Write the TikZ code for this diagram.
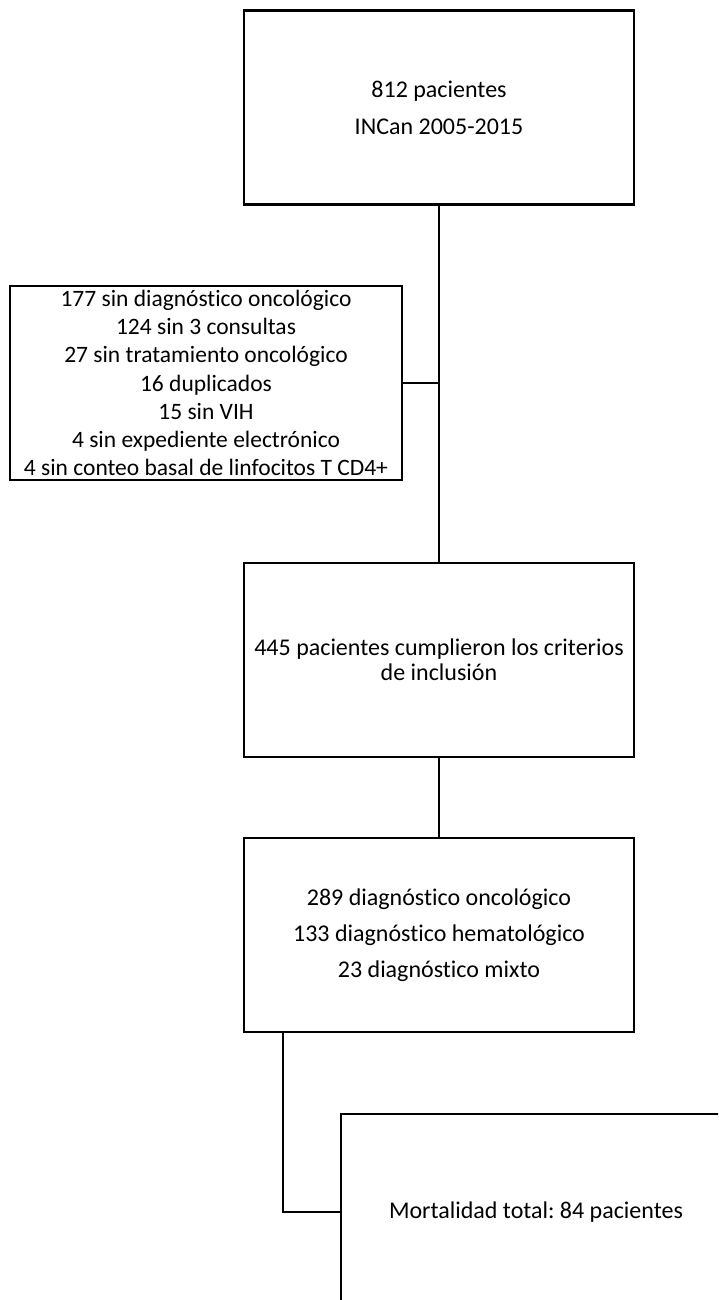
\documentclass[tikz,border=0pt]{standalone}
\usepackage{fontspec}
\setmainfont[RawFeature=-liga]{Carlito}
\usetikzlibrary{positioning}

\begin{document}
\frenchspacing
\begin{tikzpicture}[x=1pt, y=-1pt,
  stage/.style={rectangle, draw, line width=2.6pt, minimum width=390pt, minimum height=194pt, align=center, inner sep=0pt},
  link/.style={line width=2.6pt}]
\useasboundingbox (0,0) rectangle (718,1300);
\clip (0,0) rectangle (718,1300);
\node[stage, font=\fontsize{24}{37}\selectfont] (total) at (439,107.5) {812 pacientes\\INCan 2005-2015};
\node[stage, line width=2pt, minimum width=392pt, font=\fontsize{23.5}{28.3}\selectfont] (excluded) at (206,383) {177 sin diagnóstico oncológico\\124 sin 3 consultas\\27 sin tratamiento oncológico\\16 duplicados\\15 sin VIH\\4 sin expediente electrónico\\4 sin conteo basal de linfocitos T CD4+};
\node[stage, font=\fontsize{24}{25}\selectfont] (included) at (439,660) {445 pacientes cumplieron los criterios\\de inclusión};
\node[stage, font=\fontsize{24}{36}\selectfont] (diagnosis) at (439,935) {289 diagnóstico oncológico\\133 diagnóstico hematológico\\23 diagnóstico mixto};
\node[stage, minimum height=196pt, font=\fontsize{24}{26}\selectfont] (deaths) at (536,1212) {Mortalidad total: 84 pacientes};
\coordinate (drop) at (283,1032);
\draw[link] (total) -- (included);
\draw[link] (excluded.east) -- (excluded.east -| total.south);
\draw[link] (included) -- (diagnosis);
\draw[link] (drop) -- (drop |- deaths.west) -- (deaths.west);
\end{tikzpicture}
\end{document}
